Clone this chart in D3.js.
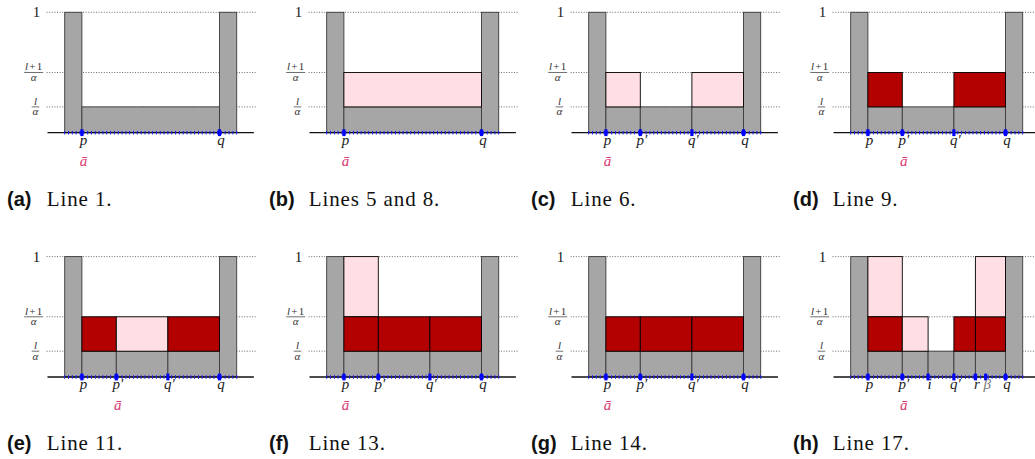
<!DOCTYPE html>
<html>
<head>
<meta charset="utf-8">
<script src="https://cdn.jsdelivr.net/npm/d3@7"></script>
<style>
  body { margin: 0; background: #fff; }
  svg { display: block; }
  .serif { font-family: "Liberation Serif", "DejaVu Serif", serif; }
  .sans { font-family: "Liberation Sans", "DejaVu Sans", sans-serif; }
</style>
</head>
<body>
<svg width="1035" height="459"></svg>
<script>
// positions along the axis, in block units (outer bars sit at 0..1 and 9..10)
const P = 1, P2 = 3, I = 4.5, Q2 = 6, R = 7.25, BETA = 7.85, Q = 9;
// heights: l/alpha, (l+1)/alpha, 1
const LOW = 1.5, MID = 3.5, TOP = 7;

const panelIds = ["a", "b", "c", "d", "e", "f", "g", "h"];
const captions = ["Line 1.", "Lines 5 and 8.", "Line 6.", "Line 9.",
                  "Line 11.", "Line 13.", "Line 14.", "Line 17."];

const yTickValues = [LOW, MID, TOP];

// where the gray base under p..q is cut
const baseCuts = [
  [P, Q], [P, Q], [P, P2, Q2, Q], [P, P2, Q2, Q],
  [P, P2, Q2, Q], [P, P2, Q2, Q], [P, P2, Q2, Q], [P, P2, I, Q2, R, Q]
];

// coloured blocks: [x0, x1, y0, y1, kind]
const blocksA = [];
const blocksB = [[P, Q, LOW, MID, "pink"]];
const blocksC = [[P, P2, LOW, MID, "pink"], [Q2, Q, LOW, MID, "pink"]];
const blocksD = [[P, P2, LOW, MID, "red"], [Q2, Q, LOW, MID, "red"]];
const blocksE = [[P, P2, LOW, MID, "red"], [P2, Q2, LOW, MID, "pink"], [Q2, Q, LOW, MID, "red"]];
const blocksF = [[P, P2, MID, TOP, "pink"], [P, P2, LOW, MID, "red"], [P2, Q2, LOW, MID, "red"], [Q2, Q, LOW, MID, "red"]];
const blocksG = [[P, P2, LOW, MID, "red"], [P2, Q2, LOW, MID, "red"], [Q2, Q, LOW, MID, "red"]];
const blocksH = [[P, P2, MID, TOP, "pink"], [P, P2, LOW, MID, "red"], [P2, I, LOW, MID, "pink"],
                 [Q2, R, LOW, MID, "red"], [R, Q, LOW, MID, "red"], [R, Q, MID, TOP, "pink"]];
const panelBlocks = [blocksA, blocksB, blocksC, blocksD, blocksE, blocksF, blocksG, blocksH];

// marked points on the axis with their labels
const marksTwo = [[P, "p"], [Q, "q"]];
const marksFour = [[P, "p"], [P2, "p′"], [Q2, "q′"], [Q, "q"]];
const marksH = [[P, "p"], [P2, "p′"], [I, "i"], [Q2, "q′"], [R, "r"], [BETA, "β"], [Q, "q"]];
const panelMarks = [marksTwo, marksTwo, marksFour, marksFour, marksFour, marksFour, marksFour, marksH];

// where a-bar sits in each panel
const abarAt = [P, P, P, P2, P2, P, P, P2];

const svg = d3.select("svg");
const colX = [64.7, 326.7, 588.7, 850.7];
const rowY = [132.7, 377];
const unit = 17.2;

const fillFor = d3.scaleOrdinal()
  .domain(["gray", "pink", "red"])
  .range(["#a6a6a6", "#ffdfe3", "#b30000"]);

panelIds.forEach(function(id, k) {
  const x0 = colX[k % 4];
  const base = rowY[Math.floor(k / 4)];
  const x = d3.scaleLinear().domain([0, 10]).range([x0, x0 + 10 * unit]);
  const y = d3.scaleLinear().domain([0, TOP]).range([base, base - TOP * unit]);
  const g = svg.append("g").attr("class", "panel-" + id);

  // dotted guides
  g.selectAll("line.grid")
    .data(yTickValues)
    .join("line")
      .attr("class", "grid")
      .attr("x1", x(-1.05)).attr("x2", x(11.1))
      .attr("y1", d => y(d)).attr("y2", d => y(d))
      .attr("stroke", "#444")
      .attr("stroke-width", 0.8)
      .attr("stroke-dasharray", "1,1.6");

  // y labels
  g.append("text")
    .attr("class", "serif")
    .attr("x", x(0) - 24.5).attr("y", y(TOP) + 5)
    .attr("text-anchor", "end")
    .attr("font-size", 15)
    .attr("fill", "#222")
    .text("1");

  function fraction(v, plusOne, cx, w) {
    const t = g.append("text")
      .attr("class", "serif")
      .attr("x", cx).attr("y", y(v) - 2.3)
      .attr("text-anchor", "middle")
      .attr("font-size", 11)
      .attr("fill", "#333");
    t.append("tspan").attr("font-style", "italic").text("l");
    if (plusOne) {
      t.append("tspan").attr("dx", 1.2).text("+");
      t.append("tspan").attr("dx", 1.2).text("1");
    }
    g.append("line")
      .attr("x1", cx - w / 2).attr("x2", cx + w / 2)
      .attr("y1", y(v)).attr("y2", y(v))
      .attr("stroke", "#333").attr("stroke-width", 0.7);
    g.append("text")
      .attr("class", "serif")
      .attr("x", cx).attr("y", y(v) + 8.5)
      .attr("text-anchor", "middle")
      .attr("font-size", 11)
      .attr("font-style", "italic")
      .attr("fill", "#333")
      .text("α");
  }
  fraction(MID, true, x(0) - 31, 19);
  fraction(LOW, false, x(0) - 29.2, 7.6);

  // gray columns
  const grayRects = [[0, 1, 0, TOP], [9, 10, 0, TOP]];
  const cuts = baseCuts[k];
  for (let j = 0; j < cuts.length - 1; j++) grayRects.push([cuts[j], cuts[j + 1], 0, LOW]);

  g.selectAll("rect.gray")
    .data(grayRects)
    .join("rect")
      .attr("class", "gray")
      .attr("x", d => x(d[0]))
      .attr("y", d => y(d[3]))
      .attr("width", d => x(d[1]) - x(d[0]))
      .attr("height", d => y(d[2]) - y(d[3]))
      .attr("fill", fillFor("gray"))
      .attr("stroke", "#3a3a3a")
      .attr("stroke-width", 0.9);

  // coloured blocks
  g.selectAll("rect.block")
    .data(panelBlocks[k])
    .join("rect")
      .attr("class", "block")
      .attr("x", d => x(d[0]))
      .attr("y", d => y(d[3]))
      .attr("width", d => x(d[1]) - x(d[0]))
      .attr("height", d => y(d[2]) - y(d[3]))
      .attr("fill", d => fillFor(d[4]))
      .attr("stroke", "#000")
      .attr("stroke-width", 0.9);

  // axis
  g.append("line")
    .attr("x1", x(-1)).attr("x2", x(11))
    .attr("y1", base).attr("y2", base)
    .attr("stroke", "#111").attr("stroke-width", 1.3);

  // small blue ticks
  g.selectAll("line.tick")
    .data(d3.range(46).map(i => i * 10 / 45))
    .join("line")
      .attr("class", "tick")
      .attr("x1", d => x(d)).attr("x2", d => x(d))
      .attr("y1", base - 1.8).attr("y2", base + 1.8)
      .attr("stroke", "#1a1aff").attr("stroke-width", 1);

  // marked points
  const marks = panelMarks[k];
  g.selectAll("rect.mark")
    .data(marks)
    .join("rect")
      .attr("class", "mark")
      .attr("x", d => x(d[0]) - 1.6)
      .attr("y", base - 3.4)
      .attr("width", 3.2)
      .attr("height", 6.8)
      .attr("fill", "#0000ff");

  g.selectAll("text.mlabel")
    .data(marks)
    .join("text")
      .attr("class", "mlabel serif")
      .attr("x", d => x(d[0]) + 1.5)
      .attr("y", base + 12)
      .attr("text-anchor", "middle")
      .attr("font-size", 15)
      .attr("font-style", "italic")
      .attr("fill", d => d[1] === "β" ? "#777" : "#222")
      .text(d => d[1]);

  g.append("text")
    .attr("class", "serif")
    .attr("x", x(abarAt[k]) + 1.5)
    .attr("y", base + 33)
    .attr("text-anchor", "middle")
    .attr("font-size", 15)
    .attr("font-style", "italic")
    .attr("fill", "#d93a72")
    .text("ā");

  // caption
  g.append("text")
    .attr("class", "sans")
    .attr("x", x0 - 57.7).attr("y", base + 73)
    .attr("font-size", 20)
    .attr("font-weight", "bold")
    .attr("fill", "#111")
    .text("(" + id + ")");
  g.append("text")
    .attr("class", "serif")
    .attr("x", x0 - 18).attr("y", base + 73)
    .attr("font-size", 21)
    .attr("letter-spacing", 0.9)
    .attr("fill", "#111")
    .text(captions[k]);
});
</script>
</body>
</html>
